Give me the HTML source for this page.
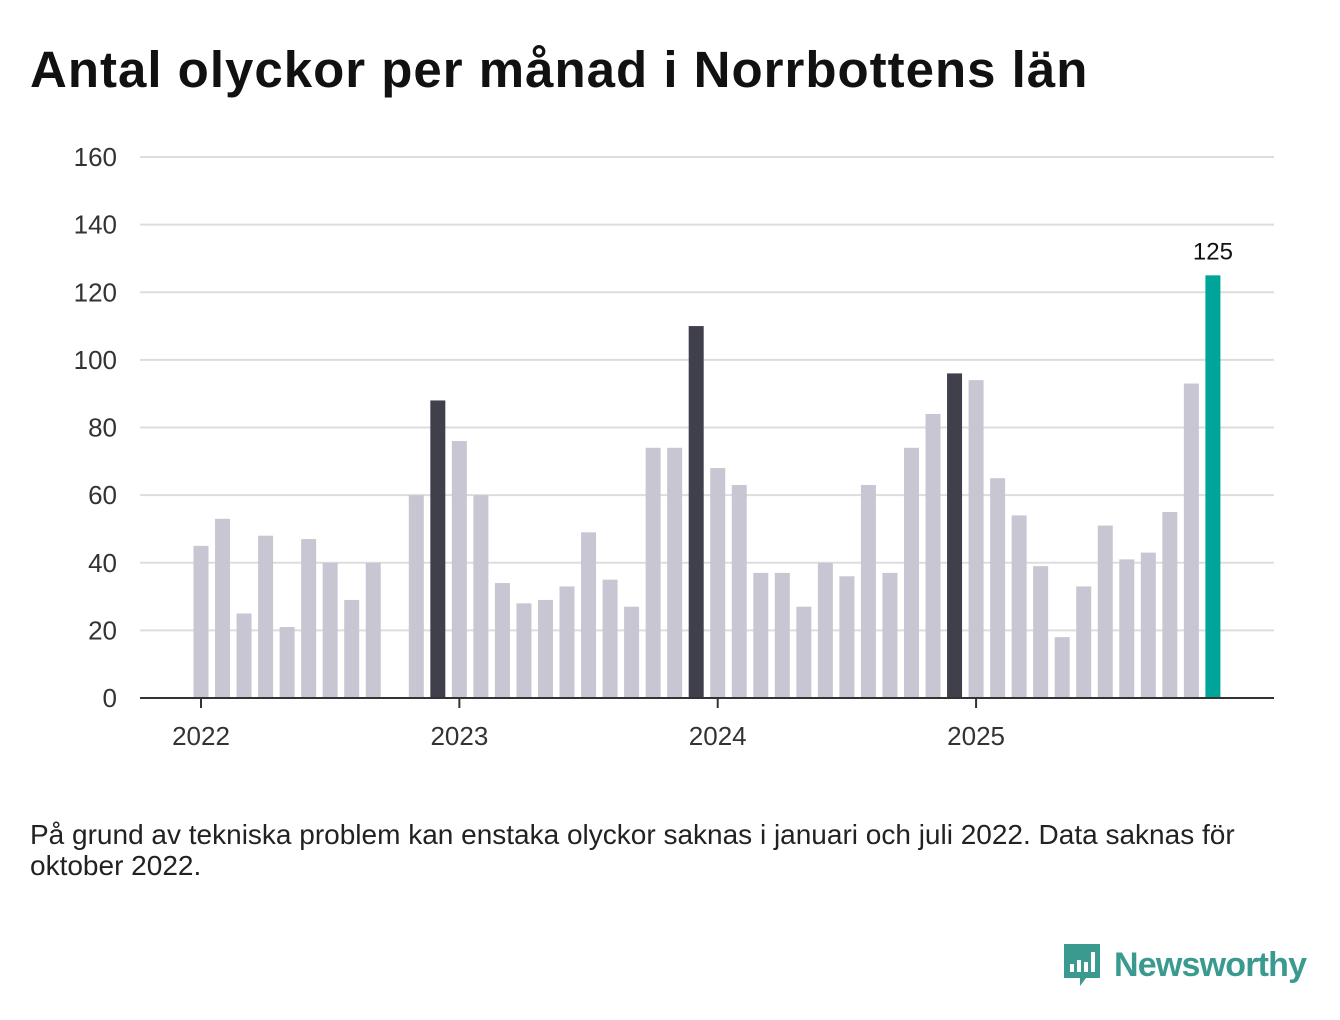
<!DOCTYPE html>
<html><head><meta charset="utf-8"><style>
body{margin:0;width:1340px;height:1020px;background:#fff;font-family:"Liberation Sans",sans-serif;overflow:hidden}
#title{position:absolute;left:30px;top:40px;font-size:51px;font-weight:bold;color:#111;margin:0;letter-spacing:1.0px;white-space:nowrap}
#note{position:absolute;left:30px;top:819px;font-size:28px;color:#222;line-height:31px;width:1260px}
#logo{position:absolute;left:1062px;top:942px;display:flex;align-items:center}
#logo span{font-size:34px;color:#3a9a8f;font-weight:bold;margin-left:12px;letter-spacing:-0.8px}
</style></head><body>
<h1 id="title">Antal olyckor per månad i Norrbottens län</h1>
<svg id="chart" width="1340" height="1020" style="position:absolute;left:0;top:0"></svg>
<div id="note">På grund av tekniska problem kan enstaka olyckor saknas i januari och juli 2022. Data saknas för<br>oktober 2022.</div>
<div id="logo">
<svg width="40" height="46" viewBox="0 0 40 46"><path d="M2 2h36v34H24l-6 8v-8H2z" fill="#3a9a8f"/><rect x="8" y="22" width="4" height="8" fill="#fff"/><rect x="15" y="18" width="4" height="12" fill="#fff"/><rect x="22" y="20" width="4" height="10" fill="#fff"/><rect x="29" y="10" width="4" height="20" fill="#fff"/></svg>
<span>Newsworthy</span></div>
<script>
const values=[45,53,25,48,21,47,40,29,40,null,60,88,
76,60,34,28,29,33,49,35,27,74,74,110,
68,63,37,37,27,40,36,63,37,74,84,96,
94,65,54,39,18,33,51,41,43,55,93,125];
const yTicks=[0,20,40,60,80,100,120,140,160];
const yearLabels=["2022","2023","2024","2025"];
const svg=document.getElementById('chart');
const NS='http://www.w3.org/2000/svg';
const y=v=>698-v*(698-157)/160;
const x=i=>201+i*21.53;
function mk(t,a){const e=document.createElementNS(NS,t);for(const k in a)e.setAttribute(k,a[k]);svg.appendChild(e);return e;}
yTicks.forEach(t=>{
 const l=mk('line',{x1:140,x2:1274,y1:y(t),y2:y(t),stroke:'#ddd','stroke-width':2});
 
 
 const tx=mk('text',{x:117,y:y(t)+9,'text-anchor':'end','font-size':26,fill:'#333','font-family':'Liberation Sans, sans-serif'});
 tx.textContent=t;
 
 
});
values.forEach((v,i)=>{
 if(v===null)return;
 let c='#c8c6d2';
 if(i%12===11)c='#403f4c';
 if(i===values.length-1)c='#00a59a';
 const r=mk('rect',{x:x(i)-7.5,y:y(v),width:15,height:698-y(v),fill:c});
 
 
});
const last=values.length-1;
const lb=mk('text',{x:x(last),y:y(values[last])-16,'text-anchor':'middle','font-size':24,fill:'#111','font-family':'Liberation Sans, sans-serif'});
lb.textContent=values[last];


const ax=mk('line',{x1:140,x2:1274,y1:698,y2:698,stroke:'#333','stroke-width':2});


yearLabels.forEach((yl,k)=>{
 const i=k*12;
 const tk=mk('line',{x1:x(i),x2:x(i),y1:698,y2:708,stroke:'#333','stroke-width':2});
 
 
 const t=mk('text',{x:x(i),y:745,'text-anchor':'middle','font-size':26,fill:'#333','font-family':'Liberation Sans, sans-serif'});
 t.textContent=yl;
 
 
});
</script>
</body></html>
